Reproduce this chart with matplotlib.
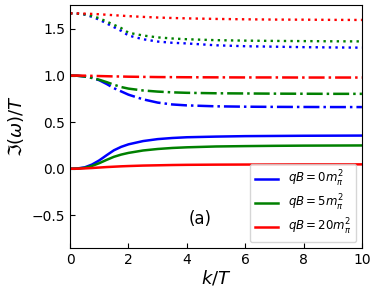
import matplotlib
matplotlib.use("Agg")
import matplotlib.pyplot as plt

k = [0, 0.25, 0.5, 0.75, 1.0, 1.25, 1.5, 1.75, 2.0, 2.5, 3.0, 3.5, 4.0, 5.0, 6.0, 7.0, 8.0, 9.0, 10.0]

# solid: lower branch
solid_0 = [0, 0.003, 0.015, 0.045, 0.09, 0.145, 0.198, 0.235, 0.262, 0.297, 0.318, 0.33, 0.338, 0.345, 0.35, 0.352, 0.354, 0.355, 0.356]
solid_5 = [0, 0.002, 0.01, 0.03, 0.06, 0.095, 0.128, 0.152, 0.17, 0.196, 0.212, 0.223, 0.23, 0.239, 0.243, 0.246, 0.248, 0.249, 0.25]
solid_20 = [0, 0.001, 0.004, 0.008, 0.013, 0.018, 0.022, 0.026, 0.029, 0.034, 0.037, 0.040, 0.042, 0.044, 0.045, 0.046, 0.047, 0.047, 0.047]

# dash-dot: middle branch
dd_0 = [1.0, 0.998, 0.99, 0.975, 0.95, 0.91, 0.865, 0.83, 0.795, 0.745, 0.71, 0.69, 0.68, 0.67, 0.666, 0.664, 0.663, 0.662, 0.662]
dd_5 = [1.0, 0.998, 0.99, 0.975, 0.955, 0.93, 0.902, 0.877, 0.86, 0.84, 0.828, 0.82, 0.815, 0.81, 0.808, 0.806, 0.805, 0.804, 0.804]
dd_20 = [1.0, 1.0, 0.999, 0.997, 0.995, 0.993, 0.991, 0.99, 0.988, 0.986, 0.984, 0.983, 0.982, 0.981, 0.98, 0.98, 0.979, 0.979, 0.979]

# dotted: upper branch
dot_0 = [1.668, 1.665, 1.655, 1.63, 1.6, 1.56, 1.52, 1.48, 1.43, 1.39, 1.365, 1.352, 1.345, 1.325, 1.315, 1.31, 1.305, 1.302, 1.30]
dot_5 = [1.668, 1.665, 1.657, 1.64, 1.615, 1.58, 1.545, 1.51, 1.46, 1.43, 1.41, 1.398, 1.39, 1.38, 1.375, 1.372, 1.37, 1.368, 1.367]
dot_20 = [1.668, 1.667, 1.665, 1.662, 1.658, 1.653, 1.648, 1.643, 1.638, 1.63, 1.623, 1.618, 1.614, 1.608, 1.604, 1.601, 1.6, 1.598, 1.597]

labels = [r'$qB=0m_\pi^2$', r'$qB=5m_\pi^2$', r'$qB=20m_\pi^2$']
colors = ['blue', 'green', 'red']

fig = plt.figure(figsize=(3.77, 2.98), dpi=100)
ax = fig.add_axes([0.186, 0.168, 0.774, 0.816])

for s, c, lab in zip([solid_0, solid_5, solid_20], colors, labels):
    ax.plot(k, s, color=c, lw=1.8, label=lab)
for s, c in zip([dd_0, dd_5, dd_20], colors):
    ax.plot(k, s, color=c, lw=1.8, linestyle='-.')
for s, c in zip([dot_0, dot_5, dot_20], colors):
    ax.plot(k, s, color=c, lw=1.7, linestyle=(0, (1, 1.8)))

ax.set_xlim(0, 10)
ax.set_ylim(-0.85, 1.76)
ax.set_xticks([0, 2, 4, 6, 8, 10])
ax.set_yticks([-0.5, 0.0, 0.5, 1.0, 1.5])
ax.tick_params(direction='in', labelsize=10)
ax.set_xlabel(r'$k/T$', fontsize=13, labelpad=1)
ax.set_ylabel(r'$\Im(\omega)/T$', fontsize=13)
ax.text(4.45, -0.54, '(a)', fontsize=12, ha='center', va='center')
ax.legend(loc='lower right', fontsize=8.5, handlelength=2.0, labelspacing=0.35)

fig.savefig('out.png', dpi=100)
